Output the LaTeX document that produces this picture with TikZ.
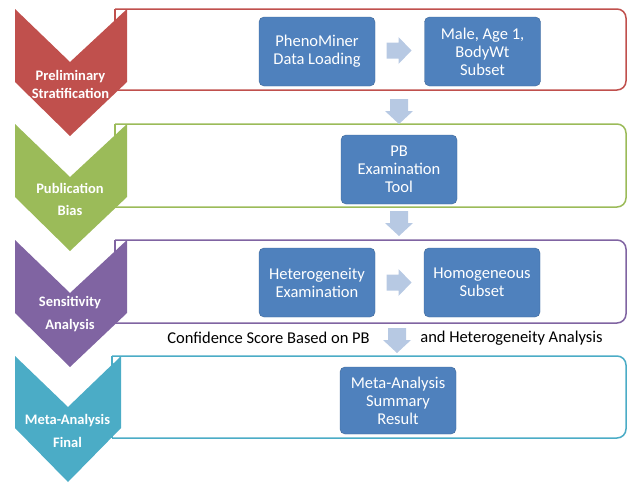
\documentclass[tikz,border=0pt]{standalone}
\usepackage{fontspec}
\setmainfont{Carlito}
\definecolor{cred}{HTML}{C0504D}
\definecolor{cgreen}{HTML}{9BBB59}
\definecolor{cpurple}{HTML}{8064A2}
\definecolor{cteal}{HTML}{4BACC6}
\definecolor{cblue}{HTML}{4F81BD}
\definecolor{carrow}{RGB}{183,201,227}
\tikzset{
  band/.style={line width=1.5pt, rounded corners=9pt},
  bandedge/.style={line width=1.5pt},
  chevtext/.style={text=white, font=\fontsize{14.5}{18}\selectfont\bfseries, align=center, inner sep=0pt},
  bbox/.style={fill=cblue, draw=cblue!80!black, line width=0.4pt, rounded corners=5pt, text=white,
    font=\fontsize{16.5}{18}\selectfont, align=center, minimum width=116pt, minimum height=69pt, inner sep=0pt},
  barrow/.style={fill=carrow, draw=none},
  caption/.style={font=\fontsize{16.5}{18}\selectfont, inner sep=0pt, text=black}
}
\begin{document}
\begin{tikzpicture}[x=1pt,y=-1pt]
\useasboundingbox (0,0) rectangle (627,483);
% bands
\draw[band,cred] (115,9) -- (626,9) -- (626,90) -- (115,90);
\draw[bandedge,cred] (115,9) -- (115,90);
\draw[band,cgreen] (115,124) -- (626,124) -- (626,207) -- (115,207);
\draw[bandedge,cgreen] (115,124) -- (115,207);
\draw[band,cpurple] (115,240) -- (626,240) -- (626,323) -- (115,323);
\draw[bandedge,cpurple] (115,240) -- (115,323);
\draw[band,cteal] (112,356) -- (626,356) -- (626,438) -- (112,438);
\draw[bandedge,cteal] (112,356) -- (112,438);
% chevrons
\fill[cred] (15,9) -- (70,62) -- (127,9) -- (127,82) -- (70,136) -- (15,82) -- cycle;
\fill[cgreen] (15,124) -- (70,177) -- (127,124) -- (127,197) -- (70,251) -- (15,197) -- cycle;
\fill[cpurple] (15,240) -- (70,293) -- (127,240) -- (127,313) -- (70,367) -- (15,313) -- cycle;
\fill[cteal] (15,356) -- (68,407) -- (121,356) -- (121,428) -- (68,482) -- (15,428) -- cycle;
% small corner notches
\fill[white] (116.5,10.5) -- (124,10.5) -- (116.5,17) -- cycle;
\fill[white] (116.5,125.5) -- (124,125.5) -- (116.5,132) -- cycle;
\fill[white] (116.5,241.5) -- (124,241.5) -- (116.5,248) -- cycle;
\fill[white] (113.5,357.5) -- (119,357.5) -- (113.5,363) -- cycle;
% chevron labels
\node[chevtext] (l1) at (70.5,84) {Preliminary\\Stratification};
\node[chevtext, font=\fontsize{14.5}{22}\selectfont\bfseries] (l2) at (70,199) {Publication\\Bias};
\node[chevtext, font=\fontsize{14.5}{23}\selectfont\bfseries] (l3) at (70,314.5) {Sensitivity\\Analysis};
\node[chevtext, font=\fontsize{14.5}{23}\selectfont\bfseries] (l4) at (67.5,430.5) {Meta-Analysis\\Final};
% boxes
\node[bbox] (pheno) at (317,51.5) {PhenoMiner\\Data Loading};
\node[bbox] (male) at (482.5,51.5) {Male, Age 1,\\BodyWt\\Subset};
\node[bbox] (pb) at (399,169.5) {PB\\Examination\\Tool};
\node[bbox] (het) at (317,282.5) {Heterogeneity\\Examination};
\node[bbox] (homo) at (482,282.5) {Homogeneous\\Subset};
\node[bbox, minimum height=67pt] (meta) at (398,400.5) {Meta-Analysis\\Summary\\Result};
% block arrows
\coordinate (a1) at (386.5,50.5);
\coordinate (a2) at (386.5,282.5);
\coordinate (d1) at (399,99);
\coordinate (d2) at (399,211);
\coordinate (d3) at (397,328);
\foreach \p in {a1,a2}{
  \fill[barrow] (\p) ++(0,-8) -- ++(12,0) -- ++(0,-5.5) -- ++(13,13.5) -- ++(-13,13.5) -- ++(0,-5.5) -- ++(-12,0) -- cycle;
}
\foreach \p in {d1,d2,d3}{
  \fill[barrow] (\p) ++(-9,0) -- ++(18,0) -- ++(0,12) -- ++(5,0) -- ++(-14,13) -- ++(-14,-13) -- ++(5,0) -- cycle;
}
% captions
\node[caption] (c1) at (268.5,338) {Confidence Score Based on PB};
\node[caption] (c2) at (511.5,338) {and Heterogeneity Analysis};
\end{tikzpicture}
\end{document}
